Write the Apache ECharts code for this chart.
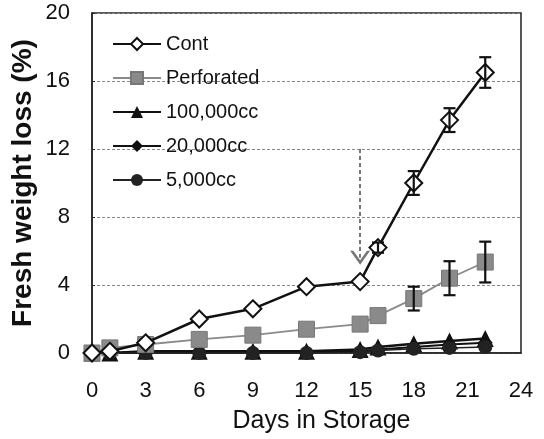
<!DOCTYPE html>
<html>
<head>
<meta charset="utf-8">
<script src="https://cdn.jsdelivr.net/npm/echarts@6/dist/echarts.min.js"></script>
<style>html,body{margin:0;padding:0;background:#fff;}#c{width:544px;height:439px;}</style>
</head>
<body>
<div id="c"></div>
<script>
var days = [0, 1, 3, 6, 9, 12, 15, 16, 18, 20, 22];
var cont = [0, 0.1, 0.6, 2.0, 2.6, 3.9, 4.2, 6.2, 10.0, 13.7, 16.5];
var perforated = [0, 0.3, 0.5, 0.8, 1.05, 1.4, 1.7, 2.2, 3.2, 4.4, 5.35];
var cc100000 = [0, 0, 0.1, 0.1, 0.1, 0.1, 0.2, 0.35, 0.55, 0.7, 0.85];
var cc20000 = [0, 0, 0.05, 0.05, 0.05, 0.05, 0.1, 0.2, 0.35, 0.5, 0.6];
var cc5000 = [0, 0, 0, 0, 0, 0, 0.05, 0.15, 0.25, 0.3, 0.35];
var contErrDays = [16, 18, 20, 22];
var contErr = [0.3, 0.7, 0.7, 0.9];
var perfErrDays = [18, 20, 22];
var perfErr = [0.7, 1.0, 1.2];
var yTicks = [0, 4, 8, 12, 16, 20];
var xTicks = [0, 3, 6, 9, 12, 15, 18, 21, 24];
var arrowFrom = [15, 12];
var arrowTo = [15, 5.6];

function pairs(xs, ys) { return xs.map(function (x, i) { return [x, ys[i]]; }); }
function errData(xs, means, errs) {
  return xs.map(function (x, i) {
    var m = means[days.indexOf(x)];
    return [x, m - errs[i], m + errs[i]];
  });
}
function errRender(params, api) {
  var lo = api.coord([api.value(0), api.value(1)]);
  var hi = api.coord([api.value(0), api.value(2)]);
  var w = 6;
  var st = { stroke: '#111', lineWidth: 2.2 };
  return { type: 'group', children: [
    { type: 'line', shape: { x1: lo[0], y1: lo[1], x2: hi[0], y2: hi[1] }, style: st },
    { type: 'line', shape: { x1: lo[0] - w, y1: lo[1], x2: lo[0] + w, y2: lo[1] }, style: st },
    { type: 'line', shape: { x1: hi[0] - w, y1: hi[1], x2: hi[0] + w, y2: hi[1] }, style: st }
  ]};
}
var chevron = 'path://M0,10 L5,0 L10,10 L8.4,10 L5,3.2 L1.6,10 Z';

var chart = echarts.init(document.getElementById('c'), null, { renderer: 'canvas' });
chart.setOption({
  animation: false,
  backgroundColor: '#fff',
  grid: { left: 92, right: 23, top: 13, bottom: 86, containLabel: false, outerBoundsMode: 'none',
    show: true, borderColor: '#222', borderWidth: 1.5, backgroundColor: 'transparent' },
  legend: {
    orient: 'vertical', left: 107, top: 29, itemWidth: 48, itemHeight: 15, itemGap: 14,
    textStyle: { fontFamily: 'Liberation Sans, Arial', fontSize: 20, color: '#111', lineHeight: 20 },
    data: ['Cont', 'Perforated', '100,000cc', '20,000cc', '5,000cc']
  },
  xAxis: {
    type: 'value', min: xTicks[0], max: xTicks[xTicks.length - 1], interval: 3,
    name: 'Days in Storage', nameLocation: 'middle', nameGap: 56, nameMoveOverlap: false,
    nameTextStyle: { fontFamily: 'Liberation Sans, Arial', fontSize: 25, color: '#111', padding: [0, 0, 0, 30] },
    axisLine: { show: true, lineStyle: { color: '#222', width: 1.5 } },
    axisTick: { show: false },
    axisLabel: { fontFamily: 'Liberation Sans, Arial', fontSize: 22, color: '#111', margin: 27 },
    splitLine: { show: false }
  },
  yAxis: {
    type: 'value', min: yTicks[0], max: yTicks[yTicks.length - 1], interval: 4,
    name: 'Fresh weight loss (%)', nameLocation: 'middle', nameGap: 55, nameRotate: 90, nameMoveOverlap: false,
    nameTextStyle: { fontFamily: 'Liberation Sans, Arial', fontSize: 28, fontWeight: 'bold', color: '#111' },
    axisLine: { show: true, lineStyle: { color: '#222', width: 1.5 } },
    axisTick: { show: true, inside: true, length: 3, lineStyle: { color: '#222' } },
    axisLabel: { fontFamily: 'Liberation Sans, Arial', fontSize: 22, color: '#111', margin: 22 },
    splitLine: { show: true, lineStyle: { color: '#888', type: [3, 2], width: 1 } }
  },
  series: [
    { name: 'Cont', type: 'line', data: pairs(days, cont), symbol: 'emptyDiamond', symbolSize: 17, z: 5, showAllSymbol: true,
      lineStyle: { color: '#111', width: 2.5 }, itemStyle: { color: '#111', borderWidth: 2 } },
    { name: 'Perforated', type: 'line', data: pairs(days, perforated), symbol: 'rect', symbolSize: 16, z: 4, showAllSymbol: true,
      lineStyle: { color: '#8a8a8a', width: 1.8 }, itemStyle: { color: '#8a8a8a', borderColor: '#777', borderWidth: 1 } },
    { name: '100,000cc', type: 'line', data: pairs(days, cc100000), symbol: 'triangle', symbolSize: 17, z: 3, showAllSymbol: true,
      lineStyle: { color: '#111', width: 2.5 }, itemStyle: { color: '#111' } },
    { name: '20,000cc', type: 'line', data: pairs(days, cc20000), symbol: 'diamond', symbolSize: 15, z: 3, showAllSymbol: true,
      lineStyle: { color: '#111', width: 2 }, itemStyle: { color: '#111' } },
    { name: '5,000cc', type: 'line', data: pairs(days, cc5000), symbol: 'circle', symbolSize: 14, z: 3, showAllSymbol: true,
      lineStyle: { color: '#222', width: 1.5 }, itemStyle: { color: '#222' } },
    { name: 'contErr', type: 'custom', renderItem: errRender, data: errData(contErrDays, cont, contErr), z: 6 },
    { name: 'perfErr', type: 'custom', renderItem: errRender, data: errData(perfErrDays, perforated, perfErr), z: 6 },
    { name: 'arrow', type: 'line', data: [], silent: true,
      markLine: { silent: true, symbol: ['none', chevron], symbolSize: [20, 14],
        label: { show: false },
        lineStyle: { color: '#777', type: [4, 3], width: 2 },
        data: [[{ coord: arrowFrom }, { coord: arrowTo }]] } }
  ]
});
</script>
</body>
</html>
